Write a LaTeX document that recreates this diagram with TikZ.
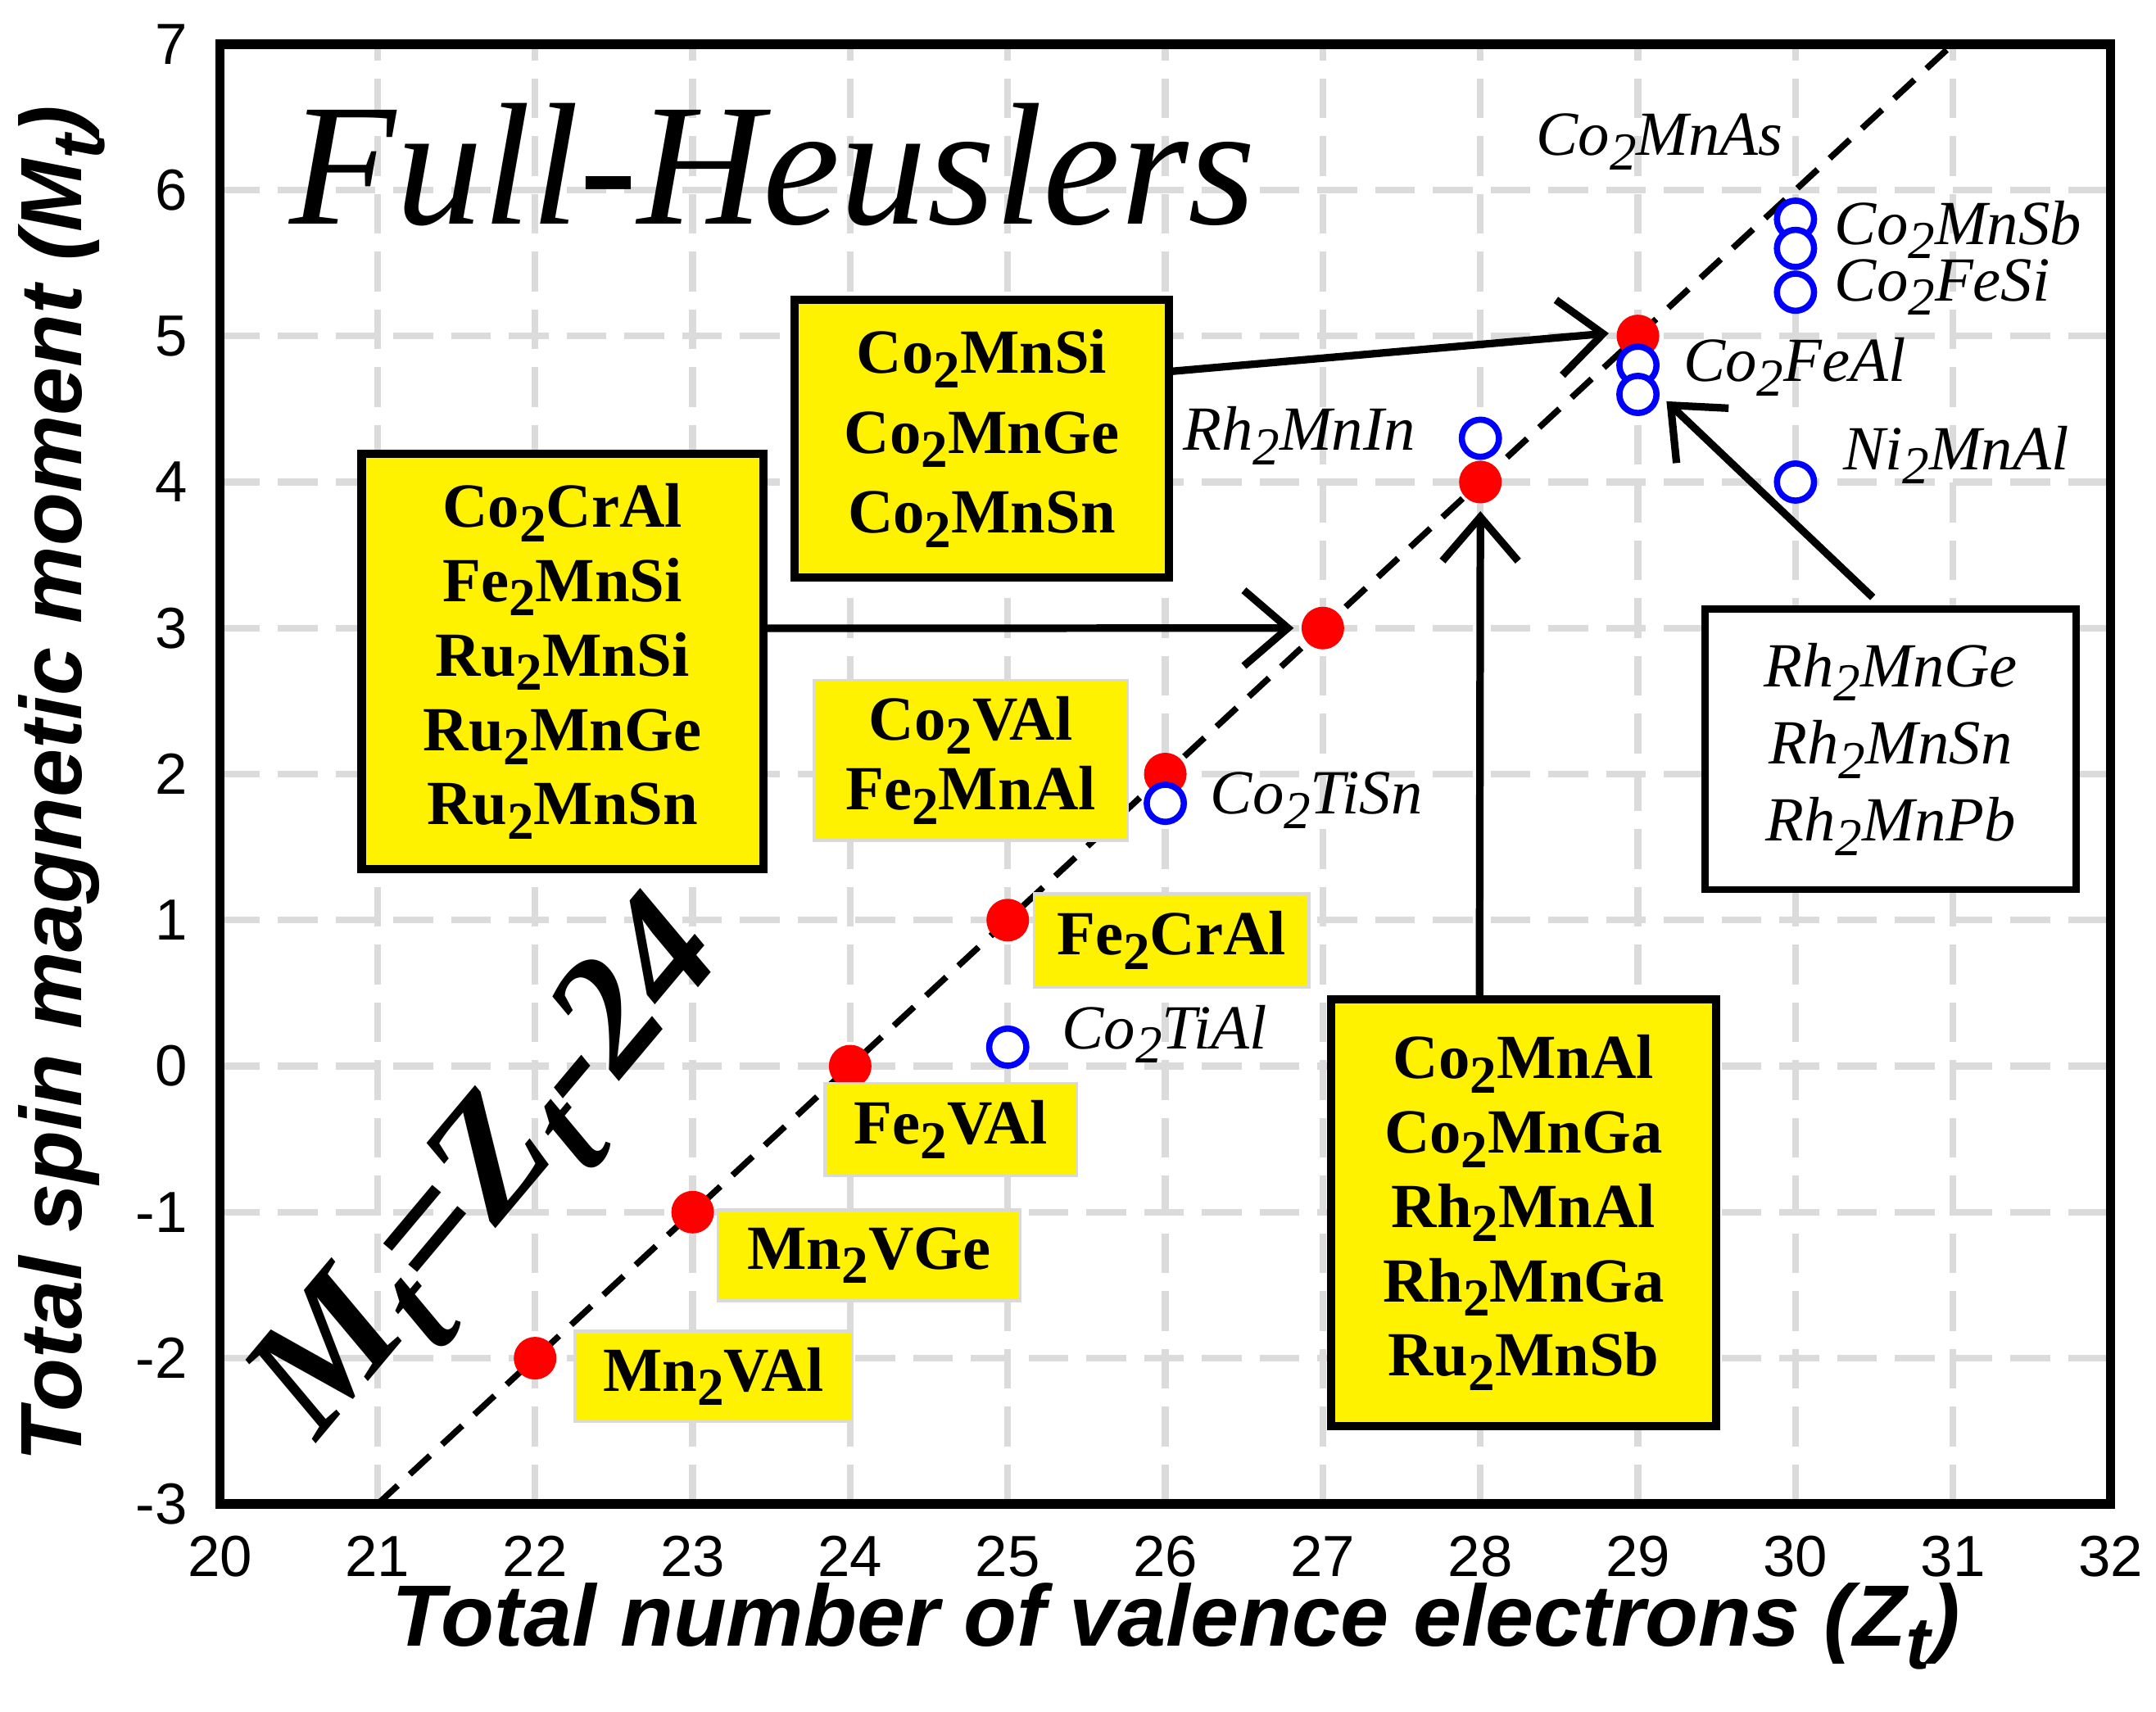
\documentclass[tikz,border=0pt]{standalone}
\usepackage{fontspec}
\setmainfont{Liberation Serif}
\setsansfont{Liberation Sans}
\usetikzlibrary{arrows.meta}
\newcommand{\lo}[1]{\raisebox{-0.5ex}{\scalebox{0.85}{#1}}}
\tikzset{
 ybox/.style={draw=black,line width=0.06cm,fill=yellow,align=center,font=\bfseries\fontsize{13}{16.5}\selectfont},
 ylab/.style={draw=black!15,line width=0.02cm,fill=yellow,align=center,font=\bfseries\fontsize{13}{14.5}\selectfont},
 wbox/.style={draw=black,line width=0.05cm,fill=white,align=center,font=\itshape\fontsize{13}{16}\selectfont},
 ilab/.style={font=\itshape\fontsize{13}{15}\selectfont},
 rdot/.style={circle,fill=red,draw=none,minimum size=0.31cm,inner sep=0},
 bcirc/.style={circle,draw=blue,line width=0.045cm,fill=white,minimum size=0.27cm,inner sep=0},
 arr/.style={line width=0.055cm,-{Straight Barb[length=0.32cm,width=0.55cm,line width=0.055cm]}},
 tick/.style={font=\sffamily\fontsize{12}{12}\selectfont}
}
\begin{document}
\begin{tikzpicture}
\useasboundingbox (0,0) rectangle (15.68,12.45);
\fill[white] (0,0) rectangle (15.68,12.45);
\begin{scope}[x=1.1458cm,y=1.062cm,shift={(-21.316cm,4.696cm)}]
 \foreach \i in {21,...,31} \draw[black!14,line width=0.05cm,dash pattern=on 0.29cm off 0.13cm] (\i,-3) -- (\i,7);
 \foreach \j in {-2,...,6} \draw[black!14,line width=0.05cm,dash pattern=on 0.29cm off 0.13cm] (20,\j) -- (32,\j);
 \draw[line width=0.045cm,dash pattern=on 0.2cm off 0.12cm] (21,-3) -- (31,7);
 \draw[line width=0.07cm] (20,-3) rectangle (32,7);
 \foreach \i in {20,...,32} \node[tick,anchor=north] at (\i,-3.1) {\i};
 \foreach \j in {-3,...,7} \node[tick,anchor=east] at (19.9,\j) {\j};
 \foreach \i/\j/\n in {22/-2/p22,23/-1/p23,24/0/p24,25/1/p25,26/2/p26,27/3/p27,28/4/p28,29/5/p29}
   \node[rdot] (\n) at (\i,\j) {};
 \node[bcirc] (c1) at (25,0.13) {};
 \node[bcirc] (c2) at (26,1.8) {};
 \node[bcirc] (c3) at (28,4.3) {};
 \node[bcirc] (c4) at (29,4.8) {};
 \node[bcirc] (c5) at (29,4.6) {};
 \node[bcirc] (c6) at (30,5.8) {};
 \node[bcirc] (c7) at (30,5.6) {};
 \node[bcirc] (c8) at (30,5.3) {};
 \node[bcirc] (c9) at (30,4.0) {};
\end{scope}
% labels
\node[ilab] (lAs) at (12.07,11.42) {Co\lo{2}MnAs};
\node[ilab,anchor=west] (lSb) at (13.22,10.78) {Co\lo{2}MnSb};
\node[ilab,anchor=west] (lFeSi) at (13.22,10.36) {Co\lo{2}FeSi};
\node[ilab,anchor=west] (lFeAl) at (12.12,9.78) {Co\lo{2}FeAl};
\node[ilab] (lIn) at (9.45,9.28) {Rh\lo{2}MnIn};
\node[ilab,anchor=west] (lNi) at (13.28,9.14) {Ni\lo{2}MnAl};
\node[ilab,anchor=west] (lTiSn) at (8.68,6.63) {Co\lo{2}TiSn};
\node[ilab,anchor=west] (lTiAl) at (7.6,4.93) {Co\lo{2}TiAl};
% boxes
\node[ybox,minimum width=2.72cm,minimum height=2.02cm] (b1) at (7.14,9.26) {Co\lo{2}MnSi\\Co\lo{2}MnGe\\Co\lo{2}MnSn};
\node[ybox,minimum width=2.92cm,minimum height=3.02cm,font=\bfseries\fontsize{13}{15.4}\selectfont] (b2) at (4.09,7.64) {Co\lo{2}CrAl\\Fe\lo{2}MnSi\\Ru\lo{2}MnSi\\Ru\lo{2}MnGe\\Ru\lo{2}MnSn};
\node[ybox,minimum width=2.8cm,minimum height=3.1cm,font=\bfseries\fontsize{13}{15.4}\selectfont] (b3) at (11.08,3.63) {Co\lo{2}MnAl\\Co\lo{2}MnGa\\Rh\lo{2}MnAl\\Rh\lo{2}MnGa\\Ru\lo{2}MnSb};
\node[wbox,minimum width=2.7cm,minimum height=2.04cm] (b4) at (13.75,7.00) {Rh\lo{2}MnGe\\Rh\lo{2}MnSn\\Rh\lo{2}MnPb};
\node[ylab,minimum width=2.28cm,minimum height=1.06cm] (y1) at (7.06,6.92) {Co\lo{2}VAl\\Fe\lo{2}MnAl};
\node[ylab,minimum width=2.0cm,minimum height=0.68cm] (y2) at (8.52,5.61) {Fe\lo{2}CrAl};
\node[ylab,minimum width=1.83cm,minimum height=0.67cm] (y3) at (6.915,4.235) {Fe\lo{2}VAl};
\node[ylab,minimum width=2.2cm,minimum height=0.66cm] (y4) at (6.32,3.32) {Mn\lo{2}VGe};
\node[ylab,minimum width=2.02cm,minimum height=0.66cm] (y5) at (5.19,2.44) {Mn\lo{2}VAl};
% arrows
\draw[arr] ([yshift=0.49cm]b1.east) -- ([xshift=-0.05cm,yshift=0.02cm]p29.west);
\draw[arr] ([yshift=0.24cm]b2.east) -- ([xshift=-0.05cm]p27.west);
\draw[arr] ([xshift=-0.32cm]b3.north) -- ([yshift=-0.05cm]p28.south);
\draw[arr] ([xshift=-0.13cm,yshift=0.06cm]b4.north) -- ([xshift=0.05cm,yshift=-0.05cm]c5.east);
% titles
\node[font=\itshape\fontsize{36}{36}\selectfont] (t1) at (5.62,11.25) {Full-Heuslers};
\node[font=\bfseries\itshape\fontsize{34}{34}\selectfont,rotate=50] (t2) at (3.6,3.9) {M\lo{t}=Z\lo{t}-24};
\node[font=\sffamily\bfseries\itshape\fontsize{18}{18}\selectfont] (xl) at (8.55,0.62) {Total number of valence electrons (Z\lo{t})};
\node[font=\sffamily\bfseries\itshape\fontsize{18}{18}\selectfont,rotate=90] (yl) at (0.45,6.75) {Total spin magnetic moment (M\lo{t})};
\end{tikzpicture}
\end{document}
